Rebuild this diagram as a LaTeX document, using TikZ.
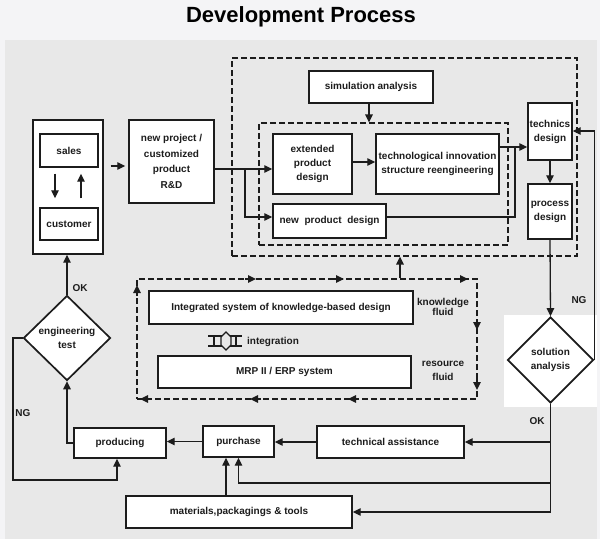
\documentclass[tikz,border=0pt]{standalone}
\usepackage{fontspec}
\setmainfont{Liberation Sans}
\usetikzlibrary{arrows.meta,shapes.geometric,calc}
\definecolor{bggray}{HTML}{E8E8E8}
\definecolor{pagebg}{HTML}{F4F4F6}
\definecolor{ink}{HTML}{1C1C1C}
\begin{document}
\begin{tikzpicture}[x=1pt,y=-1pt,
  box/.style={draw=ink,line width=1.4pt,fill=white,rectangle,inner sep=1pt,align=center,text=ink,font=\bfseries\fontsize{10}{14}\selectfont},
  dbox/.style={draw=ink,line width=1.2pt,dash pattern=on 6pt off 3pt,rectangle,inner sep=0pt},
  dia/.style={draw=ink,line width=1.7pt,diamond,aspect=1,inner sep=0pt,align=center,text=ink,font=\bfseries\fontsize{10}{13.5}\selectfont},
  arr/.style={draw=ink,line width=1.3pt,-{Triangle[length=8pt,width=7.5pt]}},
  ln/.style={draw=ink,line width=1.3pt},
  lbl/.style={text=ink,font=\bfseries\fontsize{10}{12}\selectfont,inner sep=1pt}
]
% background
\useasboundingbox (0,0) rectangle (600,539);
\fill[pagebg] (0,0) rectangle (600,539);
\fill[bggray] (5,40) rectangle (597,539);
\fill[white] (504,315) rectangle (597,407);

% title
\node[text=black,font=\bfseries\fontsize{22}{26}\selectfont] (title) at (301,17) {Development Process};

% dashed regions
\node[dbox,minimum width=345pt,minimum height=198pt] (outer) at (404.5,157) {};
\node[dbox,minimum width=249pt,minimum height=122pt] (inner) at (383.5,184) {};
\node[dbox,minimum width=340pt,minimum height=120pt] (kbox) at (307,339) {};

% boxes
\node[box,minimum width=70pt,minimum height=134pt] (sc) at (68,187) {};
\node[box,minimum width=58pt,minimum height=33pt] (sales) at (69,150.5) {sales};
\node[box,minimum width=58pt,minimum height=32pt] (customer) at (69,224) {customer};
\node[box,minimum width=85pt,minimum height=83pt,font=\bfseries\fontsize{10}{15.5}\selectfont] (newproj) at (171.5,161.5) {new project /\\customized\\product\\R\&D};
\node[box,minimum width=124pt,minimum height=32pt] (simulation) at (371,87) {simulation analysis};
\node[box,minimum width=79pt,minimum height=60pt] (extended) at (312.5,164) {extended\\product\\design};
\node[box,minimum width=113pt,minimum height=34pt] (newprod) at (329.5,221) {new~ product~ design};
\node[box,minimum width=123pt,minimum height=60pt] (techinnov) at (437.5,164) {technological innovation\\structure reengineering};
\node[box,minimum width=44pt,minimum height=57pt] (technics) at (550,131.5) {technics\\design};
\node[box,minimum width=44pt,minimum height=55pt] (process) at (550,211.5) {process\\design};
\node[dia,fill=white,minimum width=86pt,minimum height=86pt] (solution) at (550.5,360) {solution\\analysis};
\node[dia,fill=white,minimum width=87pt,minimum height=85pt] (engtest) at (67,338) {engineering\\test};
\node[box,minimum width=264pt,minimum height=33pt] (integrated) at (281,307.5) {Integrated system of knowledge-based design};
\node[box,minimum width=253pt,minimum height=32pt] (mrp) at (284.5,372) {MRP II / ERP system};
\node[box,minimum width=92pt,minimum height=30pt] (producing) at (120,443) {producing};
\node[box,minimum width=71pt,minimum height=31pt] (purchase) at (238.5,441.5) {purchase};
\node[box,minimum width=147pt,minimum height=32pt] (techassist) at (390.5,442) {technical assistance};
\node[box,minimum width=226pt,minimum height=32pt] (materials) at (239,512) {materials,packagings \& tools};

% labels
\node[lbl] (okA) at (80,288) {OK};
\node[lbl] (ngA) at (23,413) {NG};
\node[lbl] (ngB) at (579,300) {NG};
\node[lbl] (okB) at (537,421) {OK};
\node[lbl,align=center,font=\bfseries\fontsize{10}{10.5}\selectfont] (kfl) at (443,307) {knowledge\\fluid};
\node[lbl,align=center,font=\bfseries\fontsize{10}{14}\selectfont] (rfl) at (443,371) {resource\\fluid};
\node[lbl,anchor=west] (integ) at (246,342) {integration};

% integration symbol
\draw[ink,line width=2.4pt] (208,336) -- (242,336) (208,346) -- (242,346);
\draw[ink,line width=1.6pt] (214,336) -- (214,346) (236,336) -- (236,346);
\draw[ink,line width=1.2pt,fill=bggray] (226,332) -- (231,337) -- (231,345) -- (226,350) -- (221,345) -- (221,337) -- cycle;

% connectors
\draw[arr,shorten <=7pt,shorten >=3pt] (sc.east |- 0,166) -- (newproj.west |- 0,166);
\draw[arr,shorten <=6pt,shorten >=9pt] (sales.south -| 55,0) -- (customer.north -| 55,0);
\draw[arr,shorten <=9pt,shorten >=6pt] (customer.north -| 81,0) -- (sales.south -| 81,0);
\draw[arr] (newproj.east |- 0,169) -- (extended.west |- 0,169);
\draw[arr] (245,169) |- (newprod.west |- 0,217);
\draw[arr] (simulation.south -| 369,0) -- (inner.north -| 369,0);
\draw[arr] (extended.east |- 0,162) -- (techinnov.west |- 0,162);
\draw[arr] (techinnov.east |- 0,147) -- (technics.west |- 0,147);
\draw[ln] (newprod.east |- 0,217) -| (515,147);
\draw[arr] (technics.south) -- (process.north);
\draw[arr] (process.south) -- (solution.north);
\draw[arr] (solution.east) -- (solution.east |- 0,131) -- (technics.east |- 0,131);
\draw[arr] (solution.south) |- (materials.east);
\draw[arr] (solution.south |- techassist.east) -- (techassist.east);
\draw[arr] (solution.south |- 0,483) -| (purchase.south);
\draw[arr] (materials.north -| 226,0) -- (purchase.south -| 226,0);
\draw[arr] (techassist.west) -- (purchase.east |- techassist.west);
\draw[arr] (purchase.west) -- (producing.east |- purchase.west);
\draw[arr] (producing.west) -| (engtest.south);
\draw[arr] (engtest.west) -- (13,338) -- (13,480) -- (117,480) -- (producing.south -| 117,0);
\draw[arr] (engtest.north) -- (sc.south -| engtest.north);
\draw[arr] (kbox.north -| 400,0) -- (outer.south -| 400,0);

% flow tips on the knowledge loop
\draw[arr] (245,279) -- (256,279);
\draw[arr] (333,279) -- (344,279);
\draw[arr] (457,279) -- (468,279);
\draw[arr] (477,319) -- (477,330);
\draw[arr] (477,379) -- (477,390);
\draw[arr] (359,399) -- (348,399);
\draw[arr] (261,399) -- (250,399);
\draw[arr] (151,399) -- (140,399);
\draw[arr] (137,296) -- (137,285);
\end{tikzpicture}
\end{document}
